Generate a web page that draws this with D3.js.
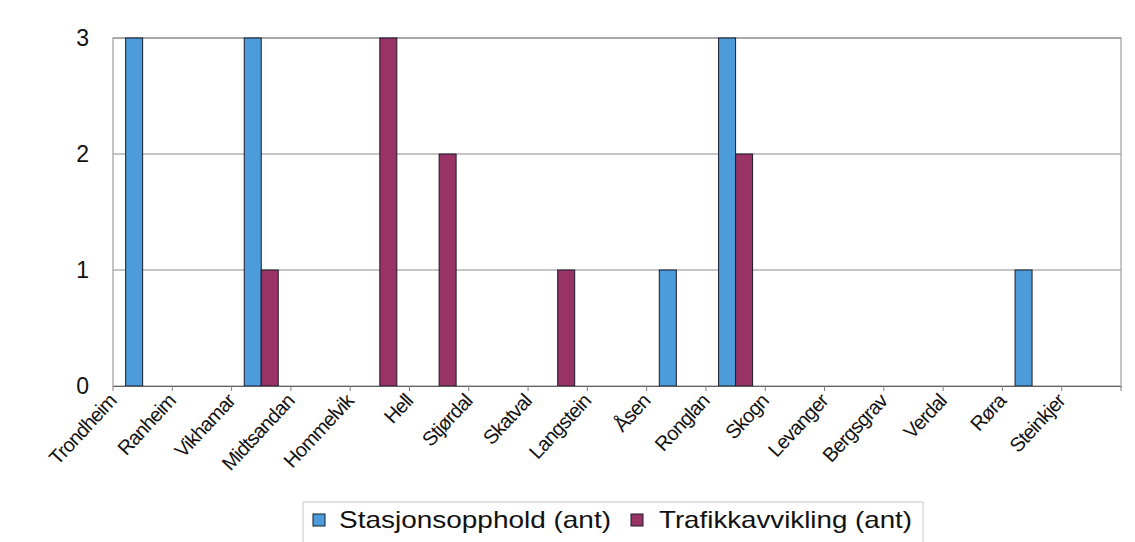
<!DOCTYPE html>
<html>
<head>
<meta charset="utf-8">
<script src="https://cdn.jsdelivr.net/npm/d3@7"></script>
<style>
  html, body { margin: 0; padding: 0; background: #ffffff; }
  svg { display: block; font-family: "Liberation Sans", Arial, sans-serif; }
</style>
</head>
<body>
<svg id="chart" width="1135" height="542"></svg>
<script>
// Stations along the line
const categories = ["Trondheim", "Ranheim", "Vikhamar", "Midtsandan", "Hommelvik", "Hell",
  "Stjørdal", "Skatval", "Langstein", "Åsen", "Ronglan", "Skogn", "Levanger",
  "Bergsgrav", "Verdal", "Røra", "Steinkjer"];

// Counts per station
const stasjonsopphold = [3, 0, 3, 0, 0, 0, 0, 0, 0, 1, 3, 0, 0, 0, 0, 1, 0];
const trafikkavvikling = [0, 0, 1, 0, 3, 2, 0, 1, 0, 0, 2, 0, 0, 0, 0, 0, 0];

const seriesNames = ["Stasjonsopphold (ant)", "Trafikkavvikling (ant)"];
const seriesColors = ["#4c9cdc", "#993366"];
const yTicks = [0, 1, 2, 3];

const series = [stasjonsopphold, trafikkavvikling];

const svg = d3.select("#chart");
const plot = { left: 113, right: 1121, top: 38, bottom: 386 };

const x = d3.scaleBand()
  .domain(categories)
  .range([plot.left, plot.right])
  .padding(0);

const barW = 17;
const xs = d3.scaleLinear().domain([0, 1]).range([-barW, 0]); // offset of each series within its band

const y = d3.scaleLinear()
  .domain([0, 3])
  .range([plot.bottom, plot.top]);

// Plot area frame
svg.append("rect")
  .attr("x", plot.left).attr("y", plot.top)
  .attr("width", plot.right - plot.left).attr("height", plot.bottom - plot.top)
  .attr("fill", "#ffffff").attr("stroke", "#a0a0a0").attr("stroke-width", 1.2);

// Horizontal gridlines
svg.append("g")
  .selectAll("line")
  .data(yTicks.filter(d => d > 0))
  .join("line")
  .attr("x1", plot.left).attr("x2", plot.right)
  .attr("y1", d => y(d)).attr("y2", d => y(d))
  .attr("stroke", "#8c8c8c").attr("stroke-width", 1);

// Y axis labels
const yAxis = d3.axisLeft(y).tickValues(yTicks).tickSize(0).tickPadding(24).tickFormat(d3.format("d"));
const yg = svg.append("g").attr("transform", `translate(${plot.left},0)`).call(yAxis);
yg.select(".domain").remove();
yg.selectAll("text")
  .attr("font-size", 23)
  .attr("fill", "#111")
  .attr("font-family", "'Liberation Sans', Arial, sans-serif");

// Bars
series.forEach((vals, si) => {
  svg.append("g")
    .selectAll("rect")
    .data(vals.map((v, i) => ({ c: categories[i], v })).filter(d => d.v > 0))
    .join("rect")
    .attr("x", d => x(d.c) + x.bandwidth() / 2 + xs(si))
    .attr("y", d => y(d.v))
    .attr("width", barW)
    .attr("height", d => y(0) - y(d.v))
    .attr("fill", seriesColors[si])
    .attr("stroke", "#1a1a2a")
    .attr("stroke-width", 1);
});

// X axis with category boundary ticks
const xAxis = d3.axisBottom(x).tickSize(0).tickFormat("");
const xg = svg.append("g").attr("transform", `translate(0,${plot.bottom})`).call(xAxis);
xg.select(".domain").attr("stroke", "#606060").attr("stroke-width", 1.2);

svg.append("g")
  .selectAll("line")
  .data(d3.range(categories.length + 1))
  .join("line")
  .attr("x1", i => plot.left + i * x.step())
  .attr("x2", i => plot.left + i * x.step())
  .attr("y1", plot.bottom).attr("y2", plot.bottom + 5)
  .attr("stroke", "#808080").attr("stroke-width", 1);

// Rotated category labels
svg.append("g")
  .selectAll("text")
  .data(categories)
  .join("text")
  .attr("transform", d => `translate(${x(d) + x.bandwidth() / 2 - 25},${plot.bottom + 16}) rotate(-47)`)
  .attr("text-anchor", "end")
  .attr("font-size", 20)
  .attr("letter-spacing", -0.8)
  .attr("fill", "#111")
  .text(d => d);

// Legend
const legend = svg.append("g");
legend.append("rect")
  .attr("x", 303).attr("y", 502).attr("width", 620).attr("height", 48)
  .attr("fill", "#ffffff").attr("stroke", "#c8c8c8").attr("stroke-width", 1);

const legendItems = [
  { x: 313, tx: 339, w: 272 },
  { x: 631, tx: 659, w: 253 }
];
legendItems.forEach((it, i) => {
  legend.append("rect")
    .attr("x", it.x).attr("y", 514).attr("width", 12).attr("height", 12)
    .attr("fill", seriesColors[i]).attr("stroke", "#1a1a2a").attr("stroke-width", 1);
  legend.append("text")
    .attr("x", it.tx).attr("y", 528)
    .attr("font-size", 24)
    .attr("textLength", it.w)
    .attr("lengthAdjust", "spacingAndGlyphs")
    .attr("fill", "#111")
    .text(seriesNames[i]);
});
</script>
</body>
</html>
